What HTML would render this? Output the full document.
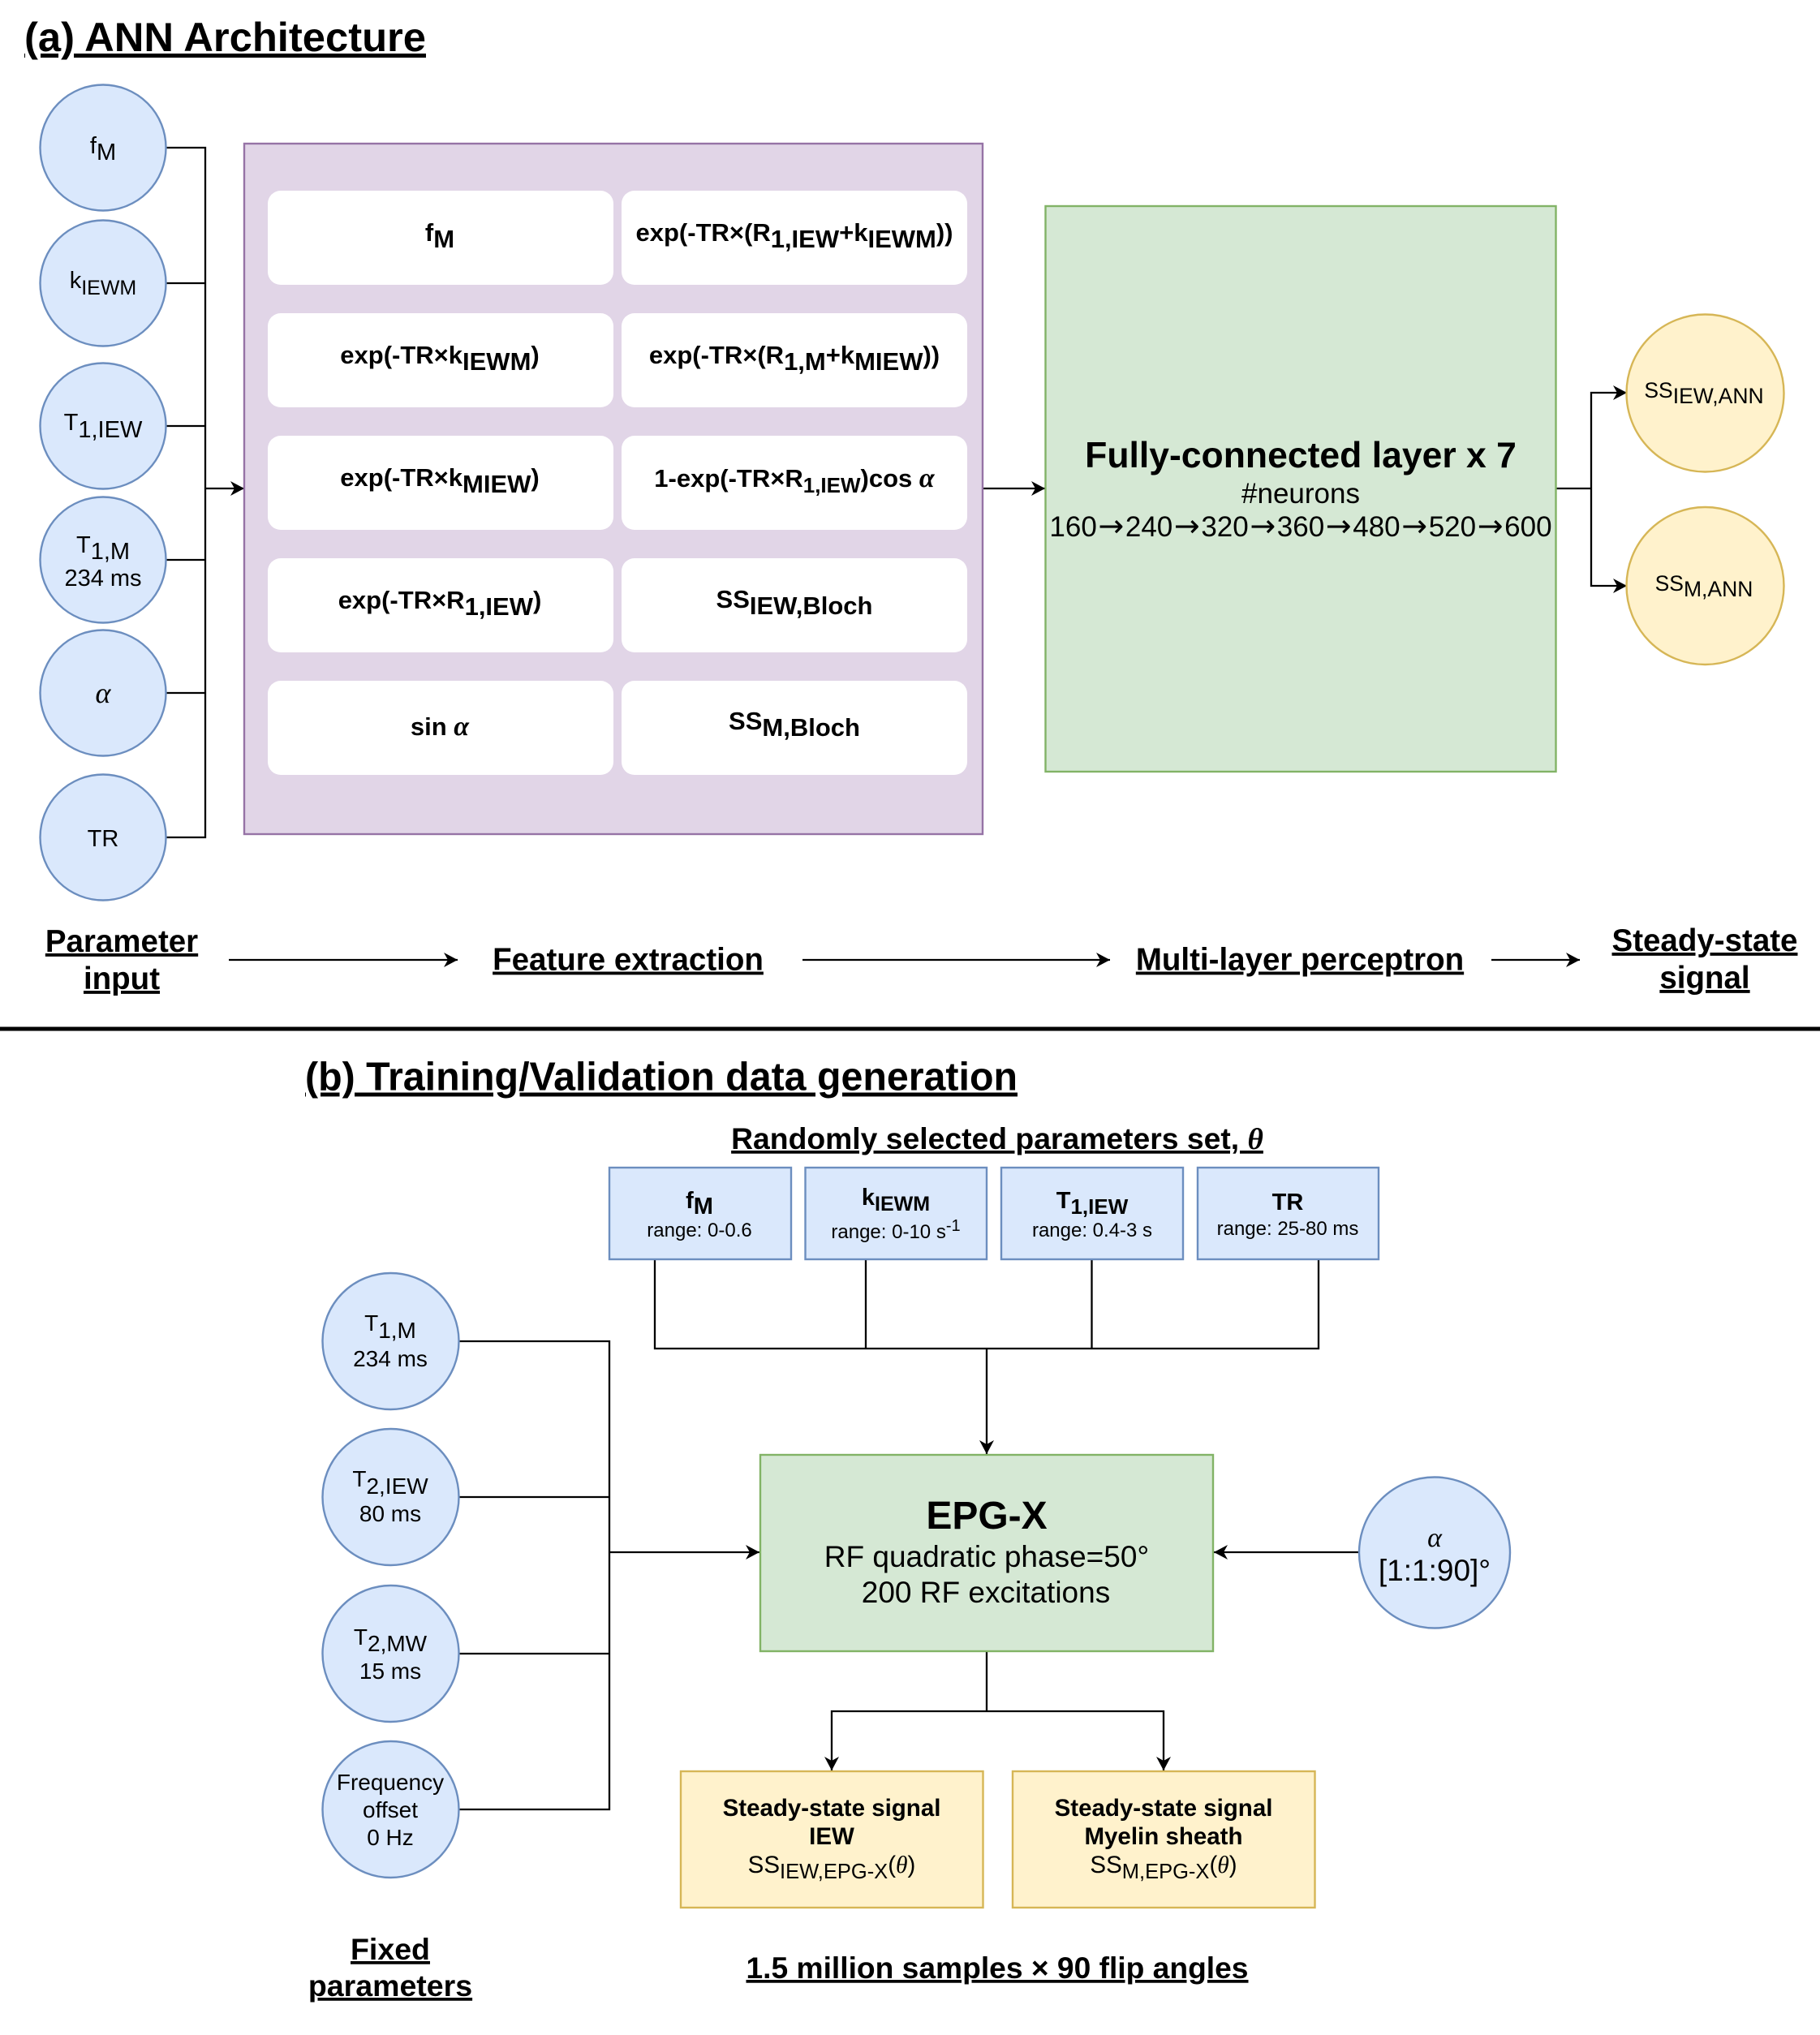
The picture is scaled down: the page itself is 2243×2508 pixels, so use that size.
<!DOCTYPE html>
<html><head><meta charset="utf-8"><style>
html,body{margin:0;padding:0;background:#fff}
svg{display:block}
text{font-family:"Liberation Sans",sans-serif;fill:#000;text-anchor:middle}
.b{font-weight:bold}
.u{font-weight:bold;text-decoration:underline}
.m{font-family:"Liberation Serif",serif;font-style:italic}
.l{fill:none;stroke:#000;stroke-width:2.3}
.a{marker-end:url(#ah)}
.blue{fill:#dae8fc;stroke:#6c8ebf;stroke-width:2.4}
.green{fill:#d5e8d4;stroke:#82b366;stroke-width:2.4}
.yel{fill:#fff2cc;stroke:#d6b656;stroke-width:2.4}
.ar{font-family:"DejaVu Sans",sans-serif;font-size:38px;letter-spacing:1.6px}
</style></head><body>
<svg xmlns="http://www.w3.org/2000/svg" width="2243" height="2508" viewBox="0 0 2243 2508">
<defs><marker id="ah" markerUnits="userSpaceOnUse" markerWidth="18" markerHeight="20" viewBox="0 0 18 20" refX="17" refY="10" orient="auto"><path d="M0,1 L17,10 L0,19 L5,10 Z" fill="#000"/></marker></defs>

<text class="u" x="30" y="63" font-size="50.5" style="text-anchor:start" textLength="495" lengthAdjust="spacingAndGlyphs">(a) ANN Architecture</text>

<!-- connectors a -->
<path class="l" d="M205,182H253V1032H205M205,349H253M205,525H253M205,690H253M205,854H253"/>
<path class="l a" d="M253,602H301"/>
<path class="l a" d="M1211,602H1288"/>
<path class="l" d="M1918,602H1961"/>
<path class="l a" d="M1961,602V484H2005"/>
<path class="l a" d="M1961,602V722H2005"/>
<path class="l a" d="M282,1183H564"/>
<path class="l a" d="M989,1183H1368"/>
<path class="l a" d="M1838,1183H1947"/>

<!-- circles a -->
<circle class="blue" cx="127" cy="182" r="77.5"/>
<circle class="blue" cx="127" cy="349" r="77.5"/>
<circle class="blue" cx="127" cy="525" r="77.5"/>
<circle class="blue" cx="127" cy="690" r="77.5"/>
<circle class="blue" cx="127" cy="854" r="77.5"/>
<circle class="blue" cx="127" cy="1032" r="77.5"/>
<text x="127" y="189" font-size="29">f<tspan dy="8">M</tspan></text>
<text x="127" y="355" font-size="29">k<tspan dy="8" font-size="25">IEWM</tspan></text>
<text x="127" y="530" font-size="29">T<tspan dy="9">1,IEW</tspan></text>
<text x="127" y="681" font-size="29">T<tspan dy="8">1,M</tspan></text>
<text x="127" y="722" font-size="29">234 ms</text>
<text class="m" x="127" y="866" font-size="36">α</text>
<text x="127" y="1043" font-size="29">TR</text>

<!-- purple -->
<rect x="301" y="177" width="910" height="851" fill="#e1d5e7" stroke="#9673a6" stroke-width="2.4"/>
<g fill="#fff">
<rect x="330" y="235" width="426" height="116" rx="16"/><rect x="766" y="235" width="426" height="116" rx="16"/>
<rect x="330" y="386" width="426" height="116" rx="16"/><rect x="766" y="386" width="426" height="116" rx="16"/>
<rect x="330" y="537" width="426" height="116" rx="16"/><rect x="766" y="537" width="426" height="116" rx="16"/>
<rect x="330" y="688" width="426" height="116" rx="16"/><rect x="766" y="688" width="426" height="116" rx="16"/>
<rect x="330" y="839" width="426" height="116" rx="16"/><rect x="766" y="839" width="426" height="116" rx="16"/>
</g>
<g font-size="31">
<text class="b" x="542" y="297">f<tspan dy="8">M</tspan></text>
<text class="b" x="979" y="297">exp(-TR×(R<tspan dy="8">1,IEW</tspan><tspan dy="-8">+k</tspan><tspan dy="8">IEWM</tspan><tspan dy="-8">))</tspan></text>
<text class="b" x="542" y="448">exp(-TR×k<tspan dy="8">IEWM</tspan><tspan dy="-8">)</tspan></text>
<text class="b" x="979" y="448">exp(-TR×(R<tspan dy="8">1,M</tspan><tspan dy="-8">+k</tspan><tspan dy="8">MIEW</tspan><tspan dy="-8">))</tspan></text>
<text class="b" x="542" y="599">exp(-TR×k<tspan dy="8">MIEW</tspan><tspan dy="-8">)</tspan></text>
<text class="b" x="979" y="600">1-exp(-TR×R<tspan dy="7" font-size="26">1,IEW</tspan><tspan dy="-7">)cos </tspan><tspan font-size="34" style="font-family:'Liberation Serif',serif;font-style:italic">α</tspan></text>
<text class="b" x="542" y="750">exp(-TR×R<tspan dy="8">1,IEW</tspan><tspan dy="-8">)</tspan></text>
<text class="b" x="979" y="749">SS<tspan dy="8">IEW,Bloch</tspan></text>
<text class="b" x="542" y="906">sin <tspan font-size="34" style="font-family:'Liberation Serif',serif;font-style:italic">α</tspan></text>
<text class="b" x="979" y="899">SS<tspan dy="8">M,Bloch</tspan></text>
</g>

<!-- green a -->
<rect class="green" x="1288.5" y="254" width="629" height="697"/>
<text class="b" x="1603" y="576" font-size="44.5">Fully-connected layer x 7</text>
<text x="1603" y="620" font-size="35">#neurons</text>
<text x="1603" y="661" font-size="35">160<tspan class="ar" dx="1.6" dy="0">→</tspan>240<tspan class="ar" dx="1.6">→</tspan>320<tspan class="ar" dx="1.6">→</tspan>360<tspan class="ar" dx="1.6">→</tspan>480<tspan class="ar" dx="1.6">→</tspan>520<tspan class="ar" dx="1.6">→</tspan>600</text>

<!-- yellow circles -->
<circle class="yel" cx="2101.5" cy="484.5" r="97"/>
<circle class="yel" cx="2101.5" cy="722" r="97"/>
<text x="2100" y="490" font-size="26.5">SS<tspan dy="7">IEW,ANN</tspan></text>
<text x="2100" y="728" font-size="26.5">SS<tspan dy="7">M,ANN</tspan></text>

<!-- a labels -->
<g font-size="38.5">
<text class="u" x="150" y="1173">Parameter</text>
<text class="u" x="150" y="1219">input</text>
<text class="u" x="774" y="1195.5">Feature extraction</text>
<text class="u" x="1602" y="1195.5">Multi-layer perceptron</text>
<text class="u" x="2101" y="1172">Steady-state</text>
<text class="u" x="2101" y="1218">signal</text>
</g>

<rect x="0" y="1265.5" width="2243" height="5" fill="#000"/>

<!-- part b -->
<text class="u" x="376" y="1343.5" font-size="49" style="text-anchor:start" textLength="878" lengthAdjust="spacingAndGlyphs">(b) Training/Validation data generation</text>
<text class="u" x="1229" y="1416" font-size="37.3">Randomly selected parameters set, <tspan style="font-family:'Liberation Serif',serif;font-style:italic">θ</tspan></text>

<path class="l" d="M807,1552V1662H1625V1552M1067,1552V1662M1345.5,1552V1662"/>
<path class="l a" d="M1216,1662V1792"/>
<path class="l" d="M565,1653H751V2230H565M565,1845H751M565,2038H751"/>
<path class="l a" d="M751,1913H936"/>
<path class="l a" d="M1675,1913H1496"/>
<path class="l" d="M1216,2035V2109"/>
<path class="l a" d="M1216,2109H1025V2182"/>
<path class="l a" d="M1216,2109H1434V2182"/>

<rect class="blue" x="751" y="1439" width="224" height="113"/>
<rect class="blue" x="992.5" y="1439" width="223.5" height="113"/>
<rect class="blue" x="1234" y="1439" width="224" height="113"/>
<rect class="blue" x="1476" y="1439" width="223" height="113"/>
<text class="b" x="862" y="1489" font-size="29">f<tspan dy="7">M</tspan></text>
<text class="b" x="1104" y="1485" font-size="29">k<tspan dy="7" font-size="25">IEWM</tspan></text>
<text class="b" x="1346" y="1489" font-size="29">T<tspan dy="7" font-size="26">1,IEW</tspan></text>
<text class="b" x="1587" y="1491" font-size="29">TR</text>
<g font-size="24">
<text x="862" y="1524">range: 0-0.6</text>
<text x="1104" y="1526">range: 0-10 s<tspan dy="-9" font-size="20">-1</tspan></text>
<text x="1346" y="1524">range: 0.4-3 s</text>
<text x="1587" y="1522">range: 25-80 ms</text>
</g>

<circle class="blue" cx="481.5" cy="1653" r="84"/>
<circle class="blue" cx="481.5" cy="1845" r="84"/>
<circle class="blue" cx="481.5" cy="2038" r="84"/>
<circle class="blue" cx="481.5" cy="2230" r="84"/>
<g font-size="28">
<text x="481" y="1640">T<tspan dy="9">1,M</tspan></text>
<text x="481" y="1684">234 ms</text>
<text x="481" y="1832">T<tspan dy="9">2,IEW</tspan></text>
<text x="481" y="1875">80 ms</text>
<text x="481" y="2027">T<tspan dy="8">2,MW</tspan></text>
<text x="481" y="2069">15 ms</text>
<text x="481" y="2206">Frequency</text>
<text x="481" y="2240">offset</text>
<text x="481" y="2274">0 Hz</text>
</g>

<rect class="green" x="937" y="1793" width="558" height="242"/>
<text class="b" x="1216" y="1884" font-size="48">EPG-X</text>
<text x="1216" y="1931" font-size="37">RF quadratic phase=50°</text>
<text x="1215" y="1975" font-size="37">200 RF excitations</text>

<circle class="blue" cx="1768" cy="1913.5" r="93"/>
<text class="m" x="1768" y="1906" font-size="34">α</text>
<text x="1768" y="1948" font-size="37">[1:1:90]°</text>

<rect class="yel" x="839" y="2183" width="372.5" height="168"/>
<rect class="yel" x="1248" y="2183" width="372.5" height="168"/>
<text class="b" x="1025" y="2238" font-size="29.5">Steady-state signal</text>
<text class="b" x="1025" y="2273" font-size="29.5">IEW</text>
<text x="1025" y="2308" font-size="29.5">SS<tspan dy="7" font-size="25.5">IEW,EPG-X</tspan><tspan dy="-7">(</tspan><tspan style="font-family:'Liberation Serif',serif;font-style:italic">θ</tspan>)</text>
<text class="b" x="1434" y="2238" font-size="29.5">Steady-state signal</text>
<text class="b" x="1434" y="2273" font-size="29.5">Myelin sheath</text>
<text x="1434" y="2308" font-size="29.5">SS<tspan dy="7" font-size="25.5">M,EPG-X</tspan><tspan dy="-7">(</tspan><tspan style="font-family:'Liberation Serif',serif;font-style:italic">θ</tspan>)</text>

<text class="u" x="481" y="2415" font-size="37.5">Fixed</text>
<text class="u" x="481" y="2460" font-size="37.5">parameters</text>
<text class="u" x="1229" y="2438" font-size="37.2">1.5 million samples × 90 flip angles</text>
</svg>
</body></html>
